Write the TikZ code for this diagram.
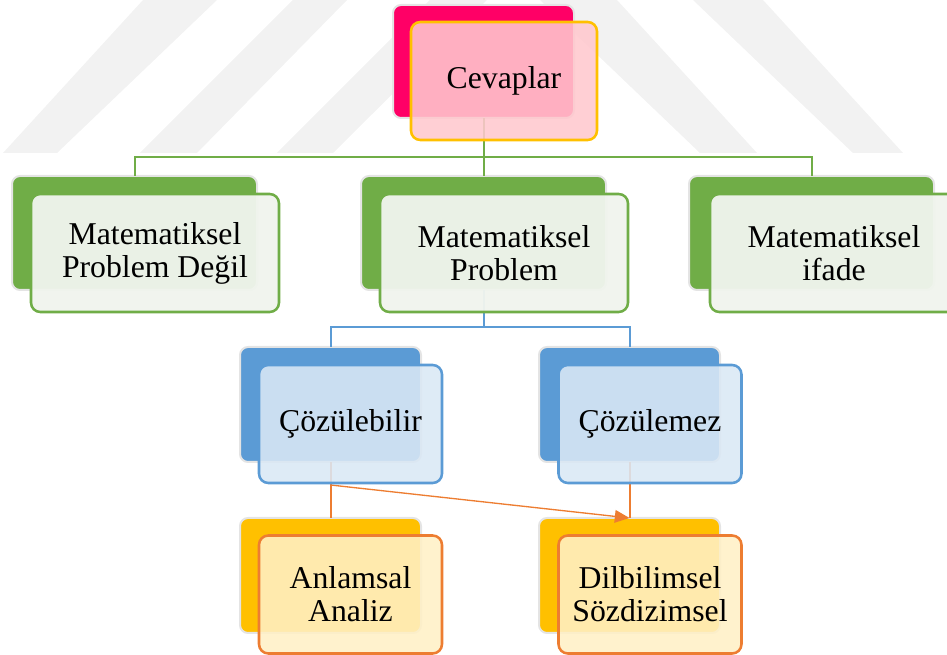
\documentclass[tikz,border=0pt]{standalone}
\usepackage{fontspec}
\setmainfont{Liberation Serif}
\usetikzlibrary{arrows.meta}
\definecolor{wm}{RGB}{242,242,242}
\definecolor{magback}{RGB}{255,0,102}
\definecolor{pinkfront}{RGB}{255,200,206}
\definecolor{goldline}{RGB}{255,192,0}
\definecolor{grn}{RGB}{112,173,71}
\definecolor{grnfront}{RGB}{240,244,237}
\definecolor{blu}{RGB}{91,155,213}
\definecolor{blufront}{RGB}{218,232,245}
\definecolor{yel}{RGB}{255,192,0}
\definecolor{yelfront}{RGB}{255,240,198}
\definecolor{org}{RGB}{237,125,49}
\definecolor{halo}{RGB}{228,228,228}
\tikzset{
  backbox/.style={rectangle, rounded corners=6pt, inner sep=0pt, outer sep=0pt, draw=halo, line width=1.5pt},
  frontbox/.style={rectangle, rounded corners=7pt, inner sep=0pt, outer sep=0pt, line width=1.9pt, fill opacity=0.88, text opacity=1, align=center, font=\fontsize{23.8}{24.8}\selectfont},
  smallbk/.style={backbox, minimum width=135.75pt, minimum height=86.25pt},
  smallfr/.style={frontbox, minimum width=137.25pt, minimum height=88.5pt},
  widebk/.style={backbox, minimum width=183.75pt, minimum height=85.5pt},
  widefr/.style={frontbox, minimum width=186pt, minimum height=88.5pt, fill opacity=0.96},
  gline/.style={draw=grn, line width=1.5pt},
  bline/.style={draw=blu, line width=1.5pt},
  oline/.style={draw=org, line width=1.5pt},
}
\begin{document}
\begin{tikzpicture}[x=0.75pt, y=-0.75pt]
\useasboundingbox (0,0) rectangle (947,655);
% faint watermark bands
\fill[wm] (143,0) -- (217,0) -- (57,153) -- (3,153) -- cycle;
\fill[wm] (293,0) -- (347,0) -- (197,153) -- (140,153) -- cycle;
\fill[wm] (430,0) -- (487,0) -- (333,153) -- (277,153) -- cycle;
\fill[wm] (540,0) -- (617,0) -- (757,153) -- (700,153) -- cycle;
\fill[wm] (693,0) -- (763,0) -- (903,153) -- (853,153) -- cycle;
% back boxes
\node[backbox, fill=magback, minimum width=135.75pt, minimum height=84.75pt] (c) at (483.5,61.5) {};
\node[widebk, fill=grn] (g1) at (134.5,233) {};
\node[widebk, fill=grn] (g2) at (483.5,233) {};
\node[widebk, fill=grn] (g3) at (811.5,233) {};
\node[smallbk, fill=blu] (b1) at (330.5,404.5) {};
\node[smallbk, fill=blu] (b2) at (629.5,404.5) {};
\node[smallbk, fill=yel] (y1) at (330.5,575.5) {};
\node[smallbk, fill=yel] (y2) at (629.5,575.5) {};
% connectors
\coordinate (gbar) at (483.5,157);
\coordinate (bbar) at (483.5,327);
\coordinate (as) at (330.5,485);
\draw[gline] (c.south) -- (gbar) -| (g1.north);
\draw[gline] (gbar) -| (g2.north);
\draw[gline] (gbar) -| (g3.north);
\draw[bline] (g2.south) -- (bbar) -| (b1.north);
\draw[bline] (bbar) -| (b2.north);
\draw[oline] (b1.south) -- (y1.north);
\draw[oline] (b2.south) -- (y2.north);
\draw[draw=org, line width=1pt, -{Triangle[length=11pt, width=9.5pt]}] (as) -- (y2.north);
% front boxes
\node[frontbox, draw=goldline, fill=pinkfront, minimum width=139.5pt, minimum height=88.5pt] (cf) at (504,81) {Cevaplar};
\node[widefr, draw=grn, fill=grnfront] (g1f) at (155,253) {Matematiksel\\Problem Değil};
\node[widefr, draw=grn, fill=grnfront] (g2f) at (504,253) {Matematiksel\\Problem};
\node[widefr, draw=grn, fill=grnfront] (g3f) at (834,253) {Matematiksel\\ifade};
\node[smallfr, draw=blu, fill=blufront] (b1f) at (350.5,424) {Çözülebilir};
\node[smallfr, draw=blu, fill=blufront] (b2f) at (650,424) {Çözülemez};
\node[smallfr, draw=org, fill=yelfront] (y1f) at (350.5,594.5) {Anlamsal\\Analiz};
\node[smallfr, draw=org, fill=yelfront] (y2f) at (650,594.5) {Dilbilimsel\\Sözdizimsel};
\end{tikzpicture}
\end{document}
